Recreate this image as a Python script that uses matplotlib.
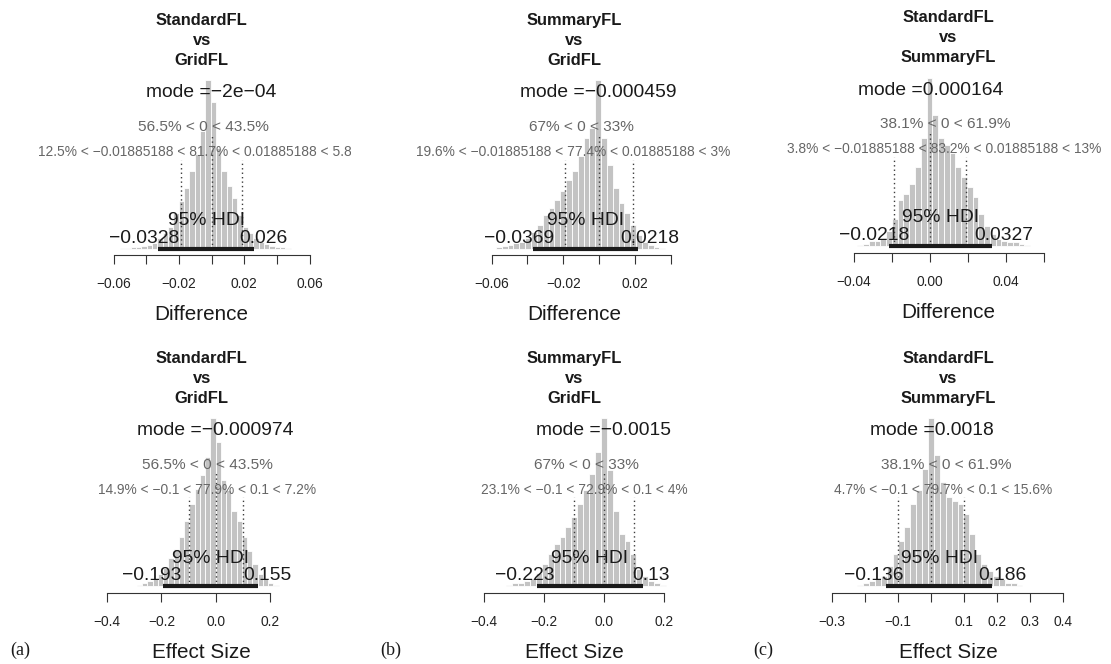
import numpy as np
import matplotlib
matplotlib.use("Agg")
import matplotlib.pyplot as plt
from matplotlib.transforms import ScaledTranslation, Bbox

plt.rcParams["font.family"] = ["Liberation Sans", "DejaVu Sans"]

FIG_W, FIG_H, DPI = 1111, 664, 100

# ---------------------------------------------------------------- data
column_titles = [("StandardFL", "vs", "GridFL"),
                 ("SummaryFL", "vs", "GridFL"),
                 ("StandardFL", "vs", "SummaryFL")]
column_tags = ["(a)", "(b)", "(c)"]
row_xlabels = ["Difference", "Effect Size"]

# posterior of the difference of means
diff_mode = [-2e-04, -0.000459, 0.000164]
diff_hdi_low = [-0.0328, -0.0369, -0.0218]
diff_hdi_high = [0.026, 0.0218, 0.0327]
diff_pct_below = [56.5, 67.0, 38.1]
diff_rope = 0.01885188
diff_rope_pct = [(12.5, 81.7, 5.8), (19.6, 77.4, 3.0), (3.8, 83.2, 13.0)]

# posterior of the effect size
es_mode = [-0.000974, -0.0015, 0.0018]
es_hdi_low = [-0.193, -0.223, -0.136]
es_hdi_high = [0.155, 0.13, 0.186]
es_pct_below = [56.5, 67.0, 38.1]
es_rope = 0.1
es_rope_pct = [(14.9, 77.9, 7.2), (23.1, 72.9, 4.0), (4.7, 79.7, 15.6)]

# histogram heights (tallest bin = 100), left to right
diff_counts_a = [0.3, 0.4, 0.6, 1, 1.5, 2, 3.5, 6, 9, 13, 21, 28, 36, 46, 56, 70,
                 100, 87, 60, 46, 37, 30, 20, 13, 9, 6, 4, 2.5, 1.5, 1, 0.6, 0.3]
diff_counts_b = [1, 1.5, 2, 3, 4, 6, 10, 14, 20, 24, 29, 34, 41, 46, 55, 66, 72,
                 100, 66, 50, 36, 27, 21, 14, 8, 4, 2, 1, 0.5]
diff_counts_c = [0.5, 1, 3, 3, 4, 9, 16, 27, 31, 37, 47, 64,
                 100, 78, 64, 60, 55, 47, 41, 35, 29, 19, 12, 7, 4, 3, 2, 2, 1, 0.5]
es_counts_a = [1, 2, 3, 4, 7, 11, 17, 22, 29, 39, 49, 58, 66, 77,
               100, 86, 63, 57, 45, 39, 29, 21, 13, 7, 4, 2, 1]
es_counts_b = [1, 2, 2, 3, 5, 8, 13, 19, 25, 29, 35, 41, 49, 57, 67, 80,
               100, 69, 45, 31, 27, 19, 10, 6, 3, 2, 1]
es_counts_c = [1, 2, 3, 4, 6, 12, 19, 27, 35, 49, 57, 70,
               100, 78, 62, 53, 51, 49, 43, 31, 19, 13, 9, 6, 4, 2, 2, 1]

# left edge of the tallest bin
diff_peak_edge = [-0.0039, -0.00212, -0.00184]
es_peak_edge = [-0.0200, -0.0103, -0.0091]

# axis ranges and ticks
diff_xlim = [(-0.07744, 0.06520), (-0.07905, 0.05112), (-0.05184, 0.07079)]
es_xlim = [(-0.4807, 0.3775), (-0.4867, 0.2874), (-0.3015, 0.4045)]
diff_ticks = [[-0.06, -0.04, -0.02, 0, 0.02, 0.04, 0.06],
              [-0.06, -0.04, -0.02, 0, 0.02, 0.04],
              [-0.04, -0.02, 0, 0.02, 0.04, 0.06]]
diff_tick_labels = [["−0.06", "", "−0.02", "", "0.02", "", "0.06"],
                    ["−0.06", "", "−0.02", "", "0.02", ""],
                    ["−0.04", "", "0.00", "", "0.04", ""]]
es_ticks = [[-0.4, -0.2, 0, 0.2],
            [-0.4, -0.2, 0, 0.2],
            [-0.3, -0.2, -0.1, 0, 0.1, 0.2, 0.3, 0.4]]
es_tick_labels = [["−0.4", "−0.2", "0.0", "0.2"],
                  ["−0.4", "−0.2", "0.0", "0.2"],
                  ["−0.3", "", "−0.1", "", "0.1", "0.2", "0.3", "0.4"]]

# ---------------------------------------------------------------- layout
col_left = [85.2, 457.5, 831.5]
col_width = 233.0
row_base = [[248.5, 248.5, 245.8], [586.2, 586.2, 586.2]]
peak_px = 168.0
col_clip = [(0, 351), (362, 742), (748, FIG_W)]
tag_x = [10, 380, 753]

BAR = "#c3c3c3"
GREY_TXT = "#666666"
DOT = "#3c3c3c"
INK = "#1a1a1a"

fig = plt.figure(figsize=(FIG_W / DPI, FIG_H / DPI), dpi=DPI)
fig.patch.set_facecolor("white")
renderer = fig.canvas.get_renderer()


def fx(px):
    return px / FIG_W


def fy(py):
    return 1 - py / FIG_H


def rnum(v):
    """Number formatting in the style of R's signif/print."""
    fixed = "{:.8g}".format(v)
    if "e" in fixed:
        fixed = "{:.12f}".format(v).rstrip("0")
    mant, ex = "{:.8e}".format(v).split("e")
    mant = mant.rstrip("0").rstrip(".")
    exp = int(ex)
    sci = "{}e{}{:02d}".format(mant, "-" if exp < 0 else "+", abs(exp))
    s = fixed if len(fixed) <= len(sci) else sci
    return s.replace("-", "−")


def adj_text(ax, x, y, s, frac, dy_px=0.0, **kw):
    """Text whose anchor sits at a fraction `frac` of its width."""
    t = ax.text(x, y, s, ha="left", va="baseline", **kw)
    w = t.get_window_extent(renderer=renderer).width
    t.set_transform(ax.transData + ScaledTranslation(-frac * w / DPI, dy_px / DPI,
                                                     fig.dpi_scale_trans))
    return t


rows = [
    dict(mode=diff_mode, lo=diff_hdi_low, hi=diff_hdi_high, below=diff_pct_below,
         rope=diff_rope, rope_pct=diff_rope_pct,
         counts=[diff_counts_a, diff_counts_b, diff_counts_c],
         peak_edge=diff_peak_edge, xlim=diff_xlim, ticks=diff_ticks,
         tick_labels=diff_tick_labels, xlabel=row_xlabels[0]),
    dict(mode=es_mode, lo=es_hdi_low, hi=es_hdi_high, below=es_pct_below,
         rope=es_rope, rope_pct=es_rope_pct,
         counts=[es_counts_a, es_counts_b, es_counts_c],
         peak_edge=es_peak_edge, xlim=es_xlim, ticks=es_ticks,
         tick_labels=es_tick_labels, xlabel=row_xlabels[1]),
]

for r, row in enumerate(rows):
    for c in range(3):
        y0 = row_base[r][c]
        top = y0 - 1.04 * peak_px
        bottom = y0 + 0.04 * peak_px
        left = col_left[c]
        center = left + col_width / 2
        ax = fig.add_axes([fx(left), fy(bottom), col_width / FIG_W, (bottom - top) / FIG_H])
        ax.patch.set_visible(False)

        counts = np.asarray(row["counts"][c], dtype=float)
        peak = counts.max()
        lo, hi = row["lo"][c], row["hi"][c]
        width = (hi - lo) / 18.0
        k = int(np.argmax(counts))
        edges = row["peak_edge"][c] + (np.arange(len(counts)) - k) * width

        ax.set_xlim(*row["xlim"][c])
        ax.set_ylim(-0.04 * peak, 1.04 * peak)

        ax.bar(edges, counts, width=width, align="edge", color=BAR,
               edgecolor="white", linewidth=0.6, zorder=1)

        # comparison value and ROPE markers
        cv_ht = 0.7 * peak
        rope_ht = 0.55 * peak
        ax.plot([0, 0], [0, 0.96 * cv_ht], color=DOT, lw=1.0,
                linestyle=(0, (1, 2.2)), zorder=2)
        for edge in (-row["rope"], row["rope"]):
            ax.plot([edge, edge], [0, 0.96 * rope_ht], color=DOT, lw=1.0,
                    linestyle=(0, (1, 2.2)), zorder=2)

        below = row["below"][c]
        cv_text = "{}% < 0 < {}%".format(rnum(below), rnum(100 - below))
        adj_text(ax, 0, cv_ht, cv_text, below / 100, fontsize=11.1,
                 color=GREY_TXT, zorder=4)

        p_lt, p_in, p_gt = row["rope_pct"][c]
        rope_text = "{}% < {} < {}% < {} < {}%".format(
            rnum(p_lt), rnum(-row["rope"]), rnum(p_in), rnum(row["rope"]), rnum(p_gt))
        t = adj_text(ax, 0, rope_ht, rope_text, (p_lt + p_in / 2) / 100,
                     fontsize=9.9, color=GREY_TXT, zorder=4)
        x0c, x1c = col_clip[c]
        t.set_clip_box(Bbox.from_extents(x0c, 0, x1c, FIG_H))
        t.set_clip_on(True)

        # mode
        m = row["mode"][c]
        ax.text(m, 0.9 * peak, "mode =" + rnum(m), ha="center", va="baseline",
                fontsize=13.9, color=INK, zorder=4)

        # HDI
        ax.plot([lo, hi], [0, 0], color=INK, lw=3.0, solid_capstyle="butt", zorder=3)
        ax.annotate("95% HDI", xy=((lo + hi) / 2, 0), xytext=(0, 23.5 * 72 / DPI),
                    textcoords="offset points", ha="center", va="baseline",
                    fontsize=13.9, color=INK, zorder=4)
        adj_text(ax, lo, 0, rnum(lo), 0.7, dy_px=5.8, fontsize=13.9, color=INK, zorder=4)
        adj_text(ax, hi, 0, rnum(hi), 0.3, dy_px=5.8, fontsize=13.9, color=INK, zorder=4)

        # x axis
        ticks = row["ticks"][c]
        ax.set_xticks(ticks)
        ax.set_xticklabels(row["tick_labels"][c])
        ax.set_yticks([])
        for side in ("top", "left", "right"):
            ax.spines[side].set_visible(False)
        ax.spines["bottom"].set_bounds(ticks[0], ticks[-1])
        ax.spines["bottom"].set_color("#333333")
        ax.spines["bottom"].set_linewidth(0.8)
        ax.tick_params(axis="x", direction="out", length=6.5, width=0.8, pad=9.5,
                       labelsize=9.9, colors="#333333", labelcolor="#222222")

        # titles and axis label
        for i, line in enumerate(column_titles[c]):
            fig.text(fx(center), fy(y0 - 223.5 + 20 * i), line, ha="center",
                     va="baseline", fontsize=11.9, fontweight="bold", color=INK)
        fig.text(fx(center), fy(y0 + 71.9), row["xlabel"], ha="center",
                 va="baseline", fontsize=14.9, color=INK)

for c in range(3):
    fig.text(fx(tag_x[c]), fy(655), column_tags[c], ha="left", va="baseline",
             fontsize=13, family=["Liberation Serif", "DejaVu Serif"], color=INK)

fig.savefig("out.png", dpi=DPI, facecolor="white")
